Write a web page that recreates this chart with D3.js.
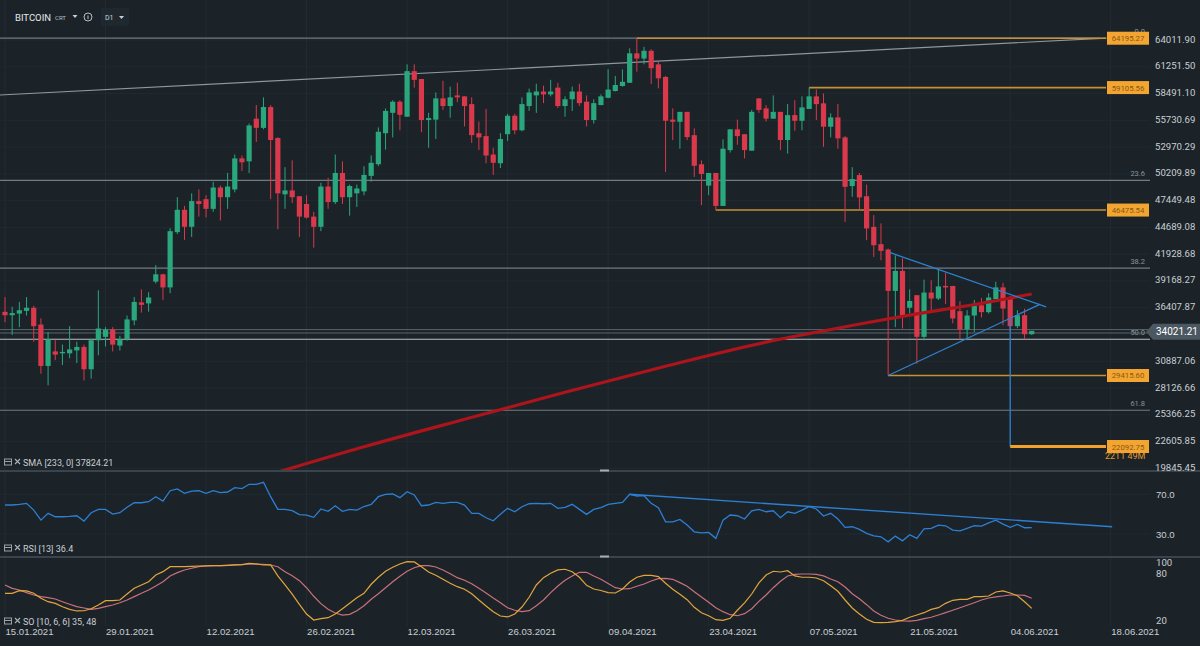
<!DOCTYPE html>
<html>
<head>
<meta charset="utf-8">
<script src="https://cdn.jsdelivr.net/npm/d3@7"></script>
<style>
html, body { margin: 0; padding: 0; background: #1b2329; overflow: hidden; }
svg { display: block; font-family: Roboto, "DejaVu Sans", sans-serif; }
</style>
</head>
<body>
<svg id="chart" width="1200" height="646"></svg>
<script>
// daily candles from 15.01.2021, prices in thousands
var firstDay = "15.01.2021";

var opens = [35.98,35.63,35.8,36.08,36.4,34.67,30.4,31.9,31.7,31.7,32.0,32.36,30.06,33.05,33.4,34.16,32.5,33.15,35.1,36.95,
  36.85,39.1,39.85,38.5,44.2,46.5,44.75,47.4,47.6,46.6,48.8,47.8,48.6,51.8,51.5,55.9,54.95,57.1,53.9,48.1,
  48.5,47.9,47.1,45.8,44.75,48.9,47.3,50.3,47.8,48.2,48.4,50.0,51.2,54.4,56.5,57.65,56.1,60.8,59.99,55.76,
  55.8,57.99,57.2,58.3,58.2,57.4,54.4,54.1,52.2,51.3,54.3,56.2,54.7,57.2,58.3,58.7,58.4,59.1,57.2,57.9,
  58.7,57.65,55.76,57.3,58.05,58.75,59.27,59.6,62.64,62.1,62.9,61.5,60.2,55.8,55.58,56.6,54.2,51.2,49.0,50.3,
  46.9,52.66,54.8,54.3,52.6,57.99,56.96,55.9,56.6,53.7,56.27,55.68,56.9,58.2,57.48,55.07,56.03,53.97,48.95,50.08,
  47.9,44.74,42.96,42.41,38.14,40.2,36.4,37.7,33.4,37.97,37.35,38.65,38.65,36.05,34.16,35.6,36.65,35.95,37.3,38.5,
  37.52,34.5,35.63,33.67];
var highs = [37.5,36.5,37.0,37.5,36.6,35.3,33.9,33.05,32.6,34.5,32.9,32.6,33.2,38.2,34.4,34.4,33.5,35.6,37.5,38.3,
  38.0,40.8,39.9,44.6,47.8,46.9,48.2,48.6,48.0,49.4,49.0,50.3,52.2,52.1,55.4,57.3,58.1,57.3,54.0,50.9,
  51.6,47.9,48.0,46.3,49.3,49.8,52.2,51.5,49.1,49.1,51.0,52.1,55.0,56.95,57.8,57.8,61.5,61.5,60.0,56.5,
  58.6,59.8,59.2,59.6,58.2,58.1,55.6,56.9,52.9,54.4,56.4,56.4,58.1,59.0,59.5,59.3,59.9,59.6,58.2,59.2,
  59.5,58.3,57.9,58.4,61.0,60.3,60.98,63.15,64.195,63.3,63.05,61.77,60.3,56.96,56.6,56.6,54.9,51.6,50.3,50.3,
  53.76,54.8,55.8,54.3,56.8,57.99,57.3,58.3,56.6,57.4,57.8,58.2,59.106,58.9,58.5,56.45,57.4,54.1,50.9,50.3,
  49.1,45.95,45.1,42.5,41.8,41.5,38.3,37.7,39.3,39.24,40.35,39.99,38.65,37.08,36.15,37.2,37.4,37.9,39.07,38.97,
  37.6,36.15,36.3,34.0];
var lows = [34.9,33.6,34.4,35.6,32.9,29.6,28.4,31.0,30.5,31.2,30.7,28.9,29.1,31.5,32.4,31.9,32.0,33.0,34.6,35.9,
  36.0,38.9,37.2,37.9,44.0,43.4,43.7,45.8,45.7,46.3,45.4,46.6,48.3,50.5,50.3,53.5,54.8,47.6,44.5,46.6,
  47.2,43.7,45.6,42.6,44.3,46.6,47.1,47.1,45.9,46.8,48.0,49.4,51.0,52.7,53.97,54.7,56.1,59.1,54.5,52.9,
  53.8,56.8,56.0,57.6,55.1,53.4,52.66,51.3,50.1,50.8,53.6,54.3,54.6,56.7,56.5,57.5,58.2,57.0,56.1,56.7,
  57.2,55.1,55.4,57.3,58.0,58.7,59.2,59.6,60.74,61.5,59.47,59.03,50.4,53.69,52.8,53.7,49.9,46.98,48.0,46.4755,
  46.9,52.4,53.2,51.8,52.6,56.5,55.6,55.9,52.66,52.3,54.65,54.7,56.9,55.76,53.0,53.97,52.8,45.26,47.84,46.5,
  43.37,41.65,41.3,29.4156,34.4,34.26,35.8,30.65,33.05,36.15,37.2,36.8,34.8,33.22,33.05,33.9,35.4,35.8,37.3,34.6,
  34.0,34.3,33.2,33.6];
var closes = [35.63,35.85,36.15,36.4,34.5,30.4,33.15,31.57,31.85,32.1,32.36,30.06,33.05,34.26,34.16,32.6,33.15,35.2,37.0,36.7,
  37.46,39.85,38.5,44.3,46.5,44.75,47.4,47.1,46.6,48.8,47.8,48.9,51.8,51.4,55.2,54.95,57.1,53.7,48.2,48.5,
  47.8,45.8,45.7,44.75,48.9,47.3,50.3,47.8,48.95,48.7,50.1,51.35,54.55,56.7,57.65,56.3,60.8,59.9,55.76,55.96,
  57.99,57.2,58.1,58.1,57.2,54.2,53.97,52.1,51.35,53.8,56.2,54.7,57.4,58.6,58.7,58.4,58.7,57.2,57.9,58.7,
  57.5,55.76,57.5,58.2,58.9,59.37,59.7,62.64,62.1,62.9,61.1,60.06,55.68,55.58,56.6,54.0,51.04,50.2,50.3,46.9,
  52.8,54.8,54.1,52.66,56.6,56.8,55.9,56.6,53.7,56.27,55.68,57.06,58.2,57.4,55.07,56.03,53.87,48.87,49.67,47.78,
  44.58,42.85,42.27,38.14,40.2,35.6,37.1,33.4,37.97,37.35,38.6,38.5,35.3,34.16,35.6,36.6,35.95,37.46,38.5,36.32,
  34.5,35.63,33.67,34.02121];

var rsiValues = [59.2,59.2,59.9,60.9,54.1,44.0,50.8,47.4,47.4,47.8,48.4,43.0,51.4,54.8,54.8,50.1,51.4,56.9,61.5,61.5,
  62.5,67.6,63.2,73.6,75.4,71.0,73.3,73.6,71.0,73.6,71.6,72.3,76.7,75.7,80.1,80.1,82.1,67.6,54.8,54.8,
  53.5,49.5,49.1,46.8,55.2,52.8,58.5,52.8,54.8,54.1,57.7,59.9,67.6,70.0,70.3,66.6,72.6,69.3,58.5,59.2,
  61.9,60.9,61.9,61.9,59.2,50.8,50.8,46.4,43.3,49.8,55.9,52.4,57.5,60.5,60.9,60.5,60.9,55.9,56.9,59.9,
  54.8,49.8,54.8,56.5,59.9,60.9,61.9,70.0,68.3,68.6,60.9,56.5,42.3,42.3,44.7,39.0,32.2,31.2,31.6,25.6,
  44.0,49.1,48.4,45.1,53.4,54.8,52.4,53.4,46.4,52.4,50.8,54.1,57.5,55.2,48.1,50.8,45.1,36.7,37.3,34.6,
  30.6,28.2,27.2,22.1,27.9,23.1,29.3,25.6,35.2,35.7,39.0,38.3,34.0,33.2,35.7,38.3,38.0,41.3,44.0,40.0,
  36.7,39.7,36.3,36.4];

var soFast = [54.3,54.3,57.7,57.3,54.3,47.9,43.5,41.4,37.1,33.7,31.6,31.9,34.5,39.3,44.8,44.8,45.7,53.4,60.7,65.0,
  69.2,77.8,82.1,88.5,88.5,88.5,89.0,89.4,89.6,89.8,89.8,90.2,90.7,91.2,92.9,92.0,90.7,90.7,76.6,65.0,
  53.2,40.0,27.7,20.0,21.7,23.0,27.7,34.5,41.4,48.7,54.3,65.9,74.9,82.6,87.7,92.0,94.9,94.6,88.5,81.7,
  77.4,72.3,67.2,62.8,59.5,53.8,45.7,38.0,30.7,25.1,23.9,27.7,36.7,49.2,65.0,74.4,80.0,84.3,85.2,82.1,
  74.9,64.6,59.8,57.9,55.1,54.7,59.8,68.8,74.9,77.4,77.4,75.7,67.2,59.5,53.0,46.1,36.3,29.4,25.5,20.4,
  19.6,22.2,32.5,41.9,53.4,67.6,77.8,82.6,81.7,83.4,76.6,74.9,74.9,74.0,70.5,64.1,56.9,45.7,35.4,27.7,
  20.9,17.0,16.5,17.0,17.8,19.5,23.5,26.4,29.4,33.7,35.8,41.4,45.3,46.6,46.6,50.0,50.0,50.8,56.0,57.3,
  54.7,51.2,43.5,35.0];
var soSlow = [65.0,60.7,58.6,55.1,52.1,50.0,48.7,47.0,43.5,40.2,37.1,35.4,33.7,35.0,37.1,39.3,42.2,45.7,50.0,54.3,
  58.6,63.7,69.2,76.6,80.8,84.3,86.5,88.5,89.4,89.8,89.8,90.2,90.7,91.2,91.6,91.6,91.6,90.7,88.5,82.1,
  77.0,70.5,61.5,50.5,41.0,33.7,29.0,26.4,27.3,32.0,38.4,46.6,53.8,61.5,69.2,76.2,82.6,87.2,89.8,89.8,
  88.1,84.3,79.5,74.4,71.0,66.7,60.7,54.7,48.3,42.2,35.8,32.5,30.7,32.0,38.4,45.7,55.1,63.7,71.0,76.6,
  81.3,81.3,76.6,72.3,66.9,61.5,59.8,60.2,63.3,66.3,70.1,73.1,73.6,72.3,68.0,63.3,56.4,49.6,42.7,35.8,
  30.7,26.8,25.5,28.1,34.5,44.0,52.1,61.5,69.7,76.6,78.7,79.1,79.1,78.7,76.6,72.7,69.2,62.4,53.8,47.4,
  39.7,31.6,26.0,22.2,20.0,19.0,18.5,19.5,21.7,23.5,26.4,29.4,32.5,35.8,38.9,42.2,45.7,48.3,49.6,50.8,
  52.1,52.1,51.7,48.0];

// SMA 233 read at a few candles: [candle index, value]
var smaPoints = [[36,19.0],[50,22.06],[64,24.9],[78,27.69],[92,30.37],[106,32.85],[113,33.88],[120,34.85],[127,35.77],[134,36.61],[143,37.82]];

var priceTicks = ["64011.90","61251.50","58491.10","55730.69","52970.29","50209.89","47449.48","44689.08","41928.68",
  "39168.27","36407.87","30887.06","28126.66","25366.25","22605.85","19845.45"];
var dateTicks = ["15.01.2021","29.01.2021","12.02.2021","26.02.2021","12.03.2021","26.03.2021","09.04.2021",
  "23.04.2021","07.05.2021","21.05.2021","04.06.2021","18.06.2021"];
var rsiTicks = [70, 30];
var soTicks = [100, 80, 20];

var fibHigh = 64.19527, fibLow = 2.115;
var fibRatios = [0, 23.6, 38.2, 50.0, 61.8];
// horizontal levels: [price, from candle index]
var levels = [[64.19527, 88], [59.10556, 112], [46.47554, 99], [29.4156, 123]];
var targetLevel = [22.09275, 140];
var trendLine = [[-0.7, 58.34], [153.4, 64.21]];
var triangleUpper = [[123.2, 42.10], [145.0, 36.49]];
var triangleLower = [[123.0, 29.4156], [144.2, 36.77]];
var breakLine = [[140, 35.32], [140, 22.09275]];
var priceLines = [34.15, 33.80];
var lastPrice = 34.02121;
var smaLast = "37824.21", rsiLast = "36.4", soLast = "35, 48";

var svg = d3.select("#chart");
var parseDay = d3.utcParse("%d.%m.%Y");
var day0 = parseDay(firstDay);
var dayOf = function(i) { return new Date(day0.getTime() + i * 86400000); };

var x = d3.scaleUtc()
  .domain([day0, parseDay("18.06.2021")])
  .range([5, 5 + 154 * 7.18]);
var y = d3.scaleLinear().domain([19.84545, 64.0119]).range([468.3, 40]);
var yRsi = d3.scaleLinear().domain([30, 70]).range([534, 494.3]);
var ySo = d3.scaleLinear().domain([20, 80]).range([620, 573.3]);
var xi = function(i) { return x(dayOf(i)); };

var textCol = "#c9ced3";

// clips for the panels
var defs = svg.append("defs");
defs.append("clipPath").attr("id", "clipMain").append("rect").attr("x", 0).attr("y", 0).attr("width", 1200).attr("height", 470);
defs.append("clipPath").attr("id", "clipRsi").append("rect").attr("x", 0).attr("y", 473).attr("width", 1150).attr("height", 83);
defs.append("clipPath").attr("id", "clipSo").append("rect").attr("x", 0).attr("y", 559).attr("width", 1150).attr("height", 70);

// grid
var grid = svg.append("g");
grid.selectAll("line.v").data(dateTicks).enter().append("line")
  .attr("x1", function(d) { return x(parseDay(d)); })
  .attr("x2", function(d) { return x(parseDay(d)); })
  .attr("y1", 0).attr("y2", 626)
  .attr("stroke", "#232c33").attr("stroke-width", 1);
grid.selectAll("line.h").data(priceTicks).enter().append("line")
  .attr("x1", 0).attr("x2", 1150)
  .attr("y1", function(d) { return y(+d / 1000); })
  .attr("y2", function(d) { return y(+d / 1000); })
  .attr("stroke", "#212a31").attr("stroke-width", 1);
grid.selectAll("line.r").data(rsiTicks).enter().append("line")
  .attr("x1", 0).attr("x2", 1150)
  .attr("y1", function(d) { return yRsi(d); }).attr("y2", function(d) { return yRsi(d); })
  .attr("stroke", "#212a31");

// separators
[471, 557].forEach(function(sy) {
  svg.append("line").attr("x1", 0).attr("x2", 1200).attr("y1", sy).attr("y2", sy)
    .attr("stroke", "#3a444c").attr("stroke-width", 2);
  svg.append("rect").attr("x", 600).attr("y", sy - 1.5).attr("width", 9).attr("height", 2).attr("fill", "#a7afb5");
});

var main = svg.append("g").attr("clip-path", "url(#clipMain)");

// fibonacci retracement lines
fibRatios.forEach(function(r) {
  var p = fibHigh - (fibHigh - fibLow) * r / 100;
  main.append("line")
    .attr("x1", 0).attr("x2", r === 0 ? 1100 : 1150)
    .attr("y1", y(p)).attr("y2", y(p))
    .attr("stroke", r === 50 ? "#b9c0c6" : "#717b83").attr("stroke-width", 1.2);
  svg.append("text")
    .attr("x", 1145).attr("y", y(p) - 4)
    .attr("text-anchor", "end")
    .attr("font-size", 7.5).attr("fill", "#8a939a")
    .text(r.toFixed(1));
});

// bid / ask lines
priceLines.forEach(function(p) {
  main.append("line").attr("x1", 0).attr("x2", 1150)
    .attr("y1", y(p)).attr("y2", y(p))
    .attr("stroke", "#5a646c").attr("stroke-width", 1);
});

// long trend line
main.append("line")
  .attr("x1", xi(trendLine[0][0])).attr("y1", y(trendLine[0][1]))
  .attr("x2", xi(trendLine[1][0])).attr("y2", y(trendLine[1][1]))
  .attr("stroke", "#8e979e").attr("stroke-width", 1.2);

// orange levels
levels.forEach(function(l) {
  main.append("line")
    .attr("x1", xi(l[1])).attr("x2", 1106)
    .attr("y1", y(l[0])).attr("y2", y(l[0]))
    .attr("stroke", "#c79035").attr("stroke-width", 1.6);
});

// candles
var candles = main.selectAll("g.candle").data(d3.range(opens.length)).enter().append("g");
candles.append("line")
  .attr("x1", xi).attr("x2", xi)
  .attr("y1", function(i) { return y(highs[i]); })
  .attr("y2", function(i) { return y(lows[i]); })
  .attr("stroke", function(i) { return closes[i] >= opens[i] ? "#2aa77d" : "#d9394a"; })
  .attr("stroke-width", 1);
candles.append("rect")
  .attr("x", function(i) { return xi(i) - 2.6; })
  .attr("width", 5.2)
  .attr("y", function(i) { return y(Math.max(opens[i], closes[i])); })
  .attr("height", function(i) { return Math.max(1, Math.abs(y(opens[i]) - y(closes[i]))); })
  .attr("fill", function(i) { return closes[i] >= opens[i] ? "#2aa77d" : "#d9394a"; });

// SMA 233
main.append("path")
  .attr("d", d3.line()
    .x(function(d) { return xi(d[0]); })
    .y(function(d) { return y(d[1]); })
    .curve(d3.curveMonotoneX)(smaPoints))
  .attr("fill", "none").attr("stroke", "#ad141b").attr("stroke-width", 3.2);

// triangle and projection
[triangleUpper, triangleLower, breakLine].forEach(function(seg) {
  main.append("line")
    .attr("x1", xi(seg[0][0])).attr("y1", y(seg[0][1]))
    .attr("x2", xi(seg[1][0])).attr("y2", y(seg[1][1]))
    .attr("stroke", "#2f82d0").attr("stroke-width", 1.3);
});
main.append("line")
  .attr("x1", xi(targetLevel[1])).attr("x2", 1106)
  .attr("y1", y(targetLevel[0])).attr("y2", y(targetLevel[0]))
  .attr("stroke", "#f2a12a").attr("stroke-width", 3);
svg.append("text").attr("x", 1105).attr("y", y(targetLevel[0]) + 12)
  .attr("font-size", 9).attr("fill", "#e39b2c").text("2211 49M");

// level boxes
levels.concat([[targetLevel[0]]]).forEach(function(l) {
  var g = svg.append("g").attr("transform", "translate(1107," + y(l[0]) + ")");
  g.append("rect").attr("x", 0).attr("y", -6.5).attr("width", 42).attr("height", 13).attr("fill", "#f3a531");
  g.append("text").attr("x", 21).attr("y", 3).attr("text-anchor", "middle")
    .attr("font-size", 7.8).attr("fill", "#8c5712").text((l[0] * 1000).toFixed(2));
});

// price axis
var yAxis = d3.axisRight(y)
  .tickValues(priceTicks.map(function(d) { return +d / 1000; }))
  .tickFormat(function(d, i) { return priceTicks[i]; })
  .tickSize(0).tickPadding(0);
var ya = svg.append("g").attr("transform", "translate(1155,-1)").call(yAxis);
ya.select(".domain").remove();
ya.selectAll("text").attr("fill", textCol).attr("font-size", 9.6).attr("font-family", "Roboto");

// last price marker
var lp = svg.append("g").attr("transform", "translate(0," + (y(lastPrice) + 1) + ")");
lp.append("path").attr("d", "M1146,0 L1153,-8 L1200,-8 L1200,8 L1153,8 Z").attr("fill", "#4b5761");
lp.append("text").attr("x", 1156).attr("y", 3.5).attr("font-size", 10).attr("fill", "#ffffff")
  .text((lastPrice * 1000).toFixed(2));

// RSI panel
var rsiG = svg.append("g").attr("clip-path", "url(#clipRsi)");
rsiG.append("path")
  .attr("d", d3.line().x(function(d, i) { return xi(i); }).y(function(d) { return yRsi(d); })(rsiValues))
  .attr("fill", "none").attr("stroke", "#2d7fd2").attr("stroke-width", 1.3);
rsiG.append("line")
  .attr("x1", xi(87)).attr("y1", yRsi(70.0))
  .attr("x2", xi(154.2)).attr("y2", yRsi(37.3))
  .attr("stroke", "#2d7fd2").attr("stroke-width", 1.4);
var ra = svg.append("g").attr("transform", "translate(1156,0)")
  .call(d3.axisRight(yRsi).tickValues(rsiTicks).tickFormat(d3.format(".1f")).tickSize(0).tickPadding(0));
ra.select(".domain").remove();
ra.selectAll("text").attr("fill", textCol).attr("font-size", 9.6);

// SO panel
var soG = svg.append("g").attr("clip-path", "url(#clipSo)");
var soLine = d3.line().x(function(d, i) { return xi(i); }).y(function(d) { return ySo(d); });
soG.append("path").attr("d", soLine(soSlow)).attr("fill", "none").attr("stroke", "#c9707c").attr("stroke-width", 1.2);
soG.append("path").attr("d", soLine(soFast)).attr("fill", "none").attr("stroke", "#e2a53e").attr("stroke-width", 1.2);
var sa = svg.append("g").attr("transform", "translate(1156,0)");
sa.selectAll("text").data(soTicks).enter().append("text")
  .attr("x", 0).attr("y", function(d) { return Math.max(ySo(d), 562) + 3.5; })
  .attr("fill", textCol).attr("font-size", 9.6).text(function(d) { return d; });

// indicator labels
function indLabel(ly, txt) {
  var g = svg.append("g").attr("transform", "translate(0," + ly + ")");
  g.append("rect").attr("x", 4.5).attr("y", -7).attr("width", 7).attr("height", 6)
    .attr("fill", "none").attr("stroke", "#9aa2a8").attr("stroke-width", 1);
  g.append("line").attr("x1", 5).attr("x2", 11).attr("y1", -4.5).attr("y2", -4.5).attr("stroke", "#9aa2a8");
  g.append("path").attr("d", "M15,-7 L20,-2 M20,-7 L15,-2").attr("stroke", "#aab2b8").attr("stroke-width", 1.1);
  g.append("text").attr("x", 23).attr("y", 0).attr("font-size", 9).attr("fill", textCol).text(txt);
}
indLabel(466, "SMA [233, 0] " + smaLast);
indLabel(552, "RSI [13] " + rsiLast);
indLabel(625, "SO [10, 6, 6] " + soLast);

// date axis
var xa = svg.append("g").attr("transform", "translate(0,628)")
  .call(d3.axisBottom(x).tickValues(dateTicks.map(parseDay))
    .tickFormat(function(d, i) { return dateTicks[i]; }).tickSize(0).tickPadding(0));
xa.select(".domain").remove();
xa.selectAll("text").attr("text-anchor", "start").attr("dy", "0.71em").attr("y", 0)
  .attr("fill", textCol).attr("font-size", 9.6);

// header
var hd = svg.append("g");
hd.append("rect").attr("x", 101).attr("y", 8).attr("width", 28).attr("height", 18).attr("rx", 2).attr("fill", "#1f282f");
hd.append("text").attr("x", 15).attr("y", 20.5).attr("font-size", 9.5).attr("fill", "#e6e9ec").text("BITCOIN");
hd.append("text").attr("x", 55).attr("y", 20).attr("font-size", 6).attr("fill", "#b7bec4").text("CRT");
hd.append("path").attr("d", "M72.5,15 L77.5,15 L75,18 Z").attr("fill", "#c9ced3");
hd.append("circle").attr("cx", 88).attr("cy", 17).attr("r", 4).attr("fill", "none").attr("stroke", "#b7bec4");
hd.append("line").attr("x1", 88).attr("x2", 88).attr("y1", 15.5).attr("y2", 19).attr("stroke", "#b7bec4");
hd.append("text").attr("x", 105).attr("y", 20).attr("font-size", 7).attr("fill", "#d0d5d9").text("D1");
hd.append("path").attr("d", "M119,16 L124,16 L121.5,19 Z").attr("fill", "#c9ced3");
</script>
</body>
</html>
